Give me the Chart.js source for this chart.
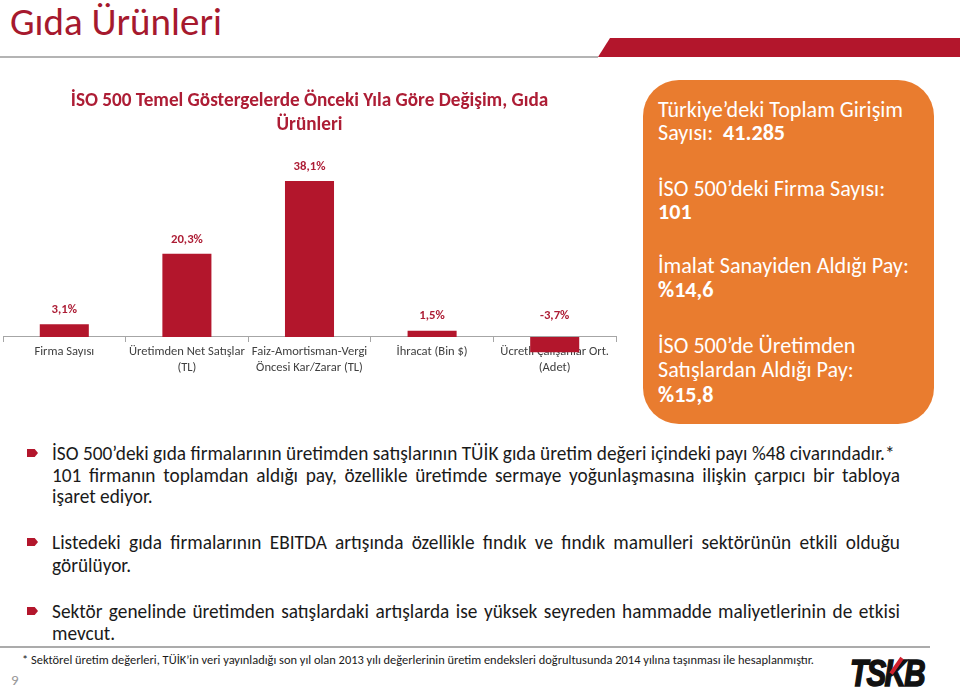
<!DOCTYPE html>
<html>
<head>
<meta charset="utf-8">
<script src="https://cdn.jsdelivr.net/npm/chart.js@4.4.1/dist/chart.umd.min.js"></script>
<style>
  html, body { margin: 0; padding: 0; background: #fff; }
  body { width: 960px; height: 694px; position: relative; overflow: hidden; font-family: Carlito, Lato, sans-serif; }
  .abs { position: absolute; white-space: nowrap; }
  #pageTitle { left: 10px; top: 0; color: #a6192e; line-height: 44px; }
  #redBand { left: 0; top: 38px; width: 960px; height: 19px; background: #b3162c;
             clip-path: polygon(610px 0, 960px 0, 960px 19px, 598px 19px); }
  #topRule { left: 0; top: 56px; width: 598px; height: 2px; background: #b4b4b4; }
  #chartBox { left: 0; top: 80px; width: 622px; height: 300px; }
  #infoBox { left: 643px; top: 80px; width: 291px; height: 344px; background: #e97c2f; border-radius: 36px; }
  .info { color: #fff; left: 658px; line-height: 24px; }
  .line { left: 52px; width: 848px; line-height: 22px; color: #1a1a1a; }
  .just { text-align: justify; text-align-last: justify; white-space: normal; }
  .bullet { left: 27px; width: 11px; height: 8px; background: #b3162c;
            clip-path: polygon(0 0, 70% 0, 100% 50%, 70% 100%, 0 100%); }
  #bottomRule { left: 0; top: 646px; width: 930px; height: 2px; background: #ababab; }
  #footnote { left: 22px; top: 652px; line-height: 16px; color: #1a1a1a; }
  #pageNo { left: 11px; top: 671px; line-height: 18px; color: #9a9a9a; font-size: 15px; }
  #logo { left: 850px; top: 656px; width: 74px; height: 36px; }
  #logoText { position: absolute; left: 0; top: 0; font: italic bold 36px "Liberation Sans Narrow", "Liberation Sans", Arial, sans-serif;
              line-height: 36px; letter-spacing: -2px; color: #111; transform-origin: 0 0;
              -webkit-text-stroke: 1.5px #111; }
  #logoSlash { position: absolute; left: 50px; top: 2px; width: 4px; height: 19px; background: #d0202e;
               transform: rotate(35deg); transform-origin: 50% 0; }
</style>
</head>
<body>
<div class="abs" id="pageTitle">Gıda Ürünleri</div>
<div class="abs" id="redBand"></div>
<div class="abs" id="topRule"></div>

<div class="abs" id="chartBox"><canvas id="chart"></canvas></div>

<div class="abs" id="infoBox"></div>
<div id="infoLines"></div>

<div id="bulletLines"></div>

<div class="abs" id="bottomRule"></div>
<div class="abs" id="footnote">* Sektörel üretim değerleri, TÜİK’in veri yayınladığı son yıl olan 2013 yılı değerlerinin üretim endeksleri doğrultusunda 2014 yılına taşınması ile hesaplanmıştır.</div>
<div class="abs" id="pageNo">9</div>
<div class="abs" id="logo"><div id="logoText">TSKB</div><div id="logoSlash"></div></div>

<script>
// ---- chart data ----
const categories = [
    ['Firma Sayısı'],
    ['Üretimden Net Satışlar', '(TL)'],
    ['Faiz-Amortisman-Vergi', 'Öncesi Kar/Zarar (TL)'],
    ['İhracat (Bin $)'],
    ['Ücretli Çalışanlar Ort.', '(Adet)']
];
const changes = [3.1, 20.3, 38.1, 1.5, -3.7];
const valueLabels = ['3,1%', '20,3%', '38,1%', '1,5%', '-3,7%'];
const chartTitle = ['İSO 500 Temel Göstergelerde Önceki Yıla Göre Değişim, Gıda', 'Ürünleri'];

// ---- side box and bullet texts ----
const infoLines = [
    ['Türkiye’deki Toplam Girişim', 110],
    ['Sayısı:&nbsp; <b>41.285</b>', 133],
    ['İSO 500’deki Firma Sayısı:', 189],
    ['<b>101</b>', 212],
    ['İmalat Sanayiden Aldığı Pay:', 266],
    ['<b>%14,6</b>', 290],
    ['İSO 500’de Üretimden', 346],
    ['Satışlardan Aldığı Pay:', 370],
    ['<b>%15,8</b>', 395]
];
const bulletLines = [
    ['İSO 500’deki gıda firmalarının üretimden satışlarının TÜİK gıda üretim değeri içindeki payı %48 civarındadır.*', 454, false],
    ['101 firmanın toplamdan aldığı pay, özellikle üretimde sermaye yoğunlaşmasına ilişkin çarpıcı bir tabloya', 476, true],
    ['işaret ediyor.', 497, false],
    ['Listedeki gıda firmalarının EBITDA artışında özellikle fındık ve fındık mamulleri sektörünün etkili olduğu', 543, true],
    ['görülüyor.', 566, false],
    ['Sektör genelinde üretimden satışlardaki artışlarda ise yüksek seyreden hammadde maliyetlerinin de etkisi', 612, true],
    ['mevcut.', 634, false]
];
const bulletTops = [454, 543, 612];

const FONT = 'Carlito, Lato, sans-serif';
const RED = '#b3162c';
const TEXT_RED = '#ad1d35';

// size a font so that a text gets a wanted width
const measureCtx = document.createElement('canvas').getContext('2d');
function fitSize(text, weight, target) {
    measureCtx.font = weight + ' 100px ' + FONT;
    return 100 * target / measureCtx.measureText(text).width;
}

document.getElementById('pageTitle').style.fontSize = fitSize('Gıda Ürünleri', 'normal', 212) + 'px';
document.getElementById('footnote').style.fontSize = fitSize(document.getElementById('footnote').textContent, 'normal', 793) + 'px';

const infoSize = fitSize('İmalat Sanayiden Aldığı Pay:', 'normal', 251);
let html = '';
infoLines.forEach(function(l) {
    html += '<div class="abs info" style="top:' + (l[1] - 12) + 'px;font-size:' + infoSize + 'px">' + l[0] + '</div>';
});
document.getElementById('infoLines').innerHTML = html;

const bulletSize = fitSize(bulletLines[0][0], 'normal', 843);
html = '';
bulletLines.forEach(function(l) {
    html += '<div class="abs line' + (l[2] ? ' just' : '') + '" style="top:' + (l[1] - 11) + 'px;font-size:' + bulletSize + 'px">' + l[0] + '</div>';
});
bulletTops.forEach(function(y) {
    html += '<div class="abs bullet" style="top:' + (y - 5) + 'px"></div>';
});
document.getElementById('bulletLines').innerHTML = html;

// logo width
const logoText = document.getElementById('logoText');
logoText.style.transform = 'scaleX(' + (74 / logoText.getBoundingClientRect().width) + ')';

// ---- chart ----
const titleSize = fitSize(chartTitle[0], 'bold', 478);
const tickSize = fitSize('Üretimden Net Satışlar', 'normal', 116);
const labelSize = fitSize('38,1%', 'bold', 32);

const valueLabelPlugin = {
    id: 'valueLabels',
    afterDatasetsDraw: function(chart) {
        const ctx = chart.ctx;
        const zeroY = chart.scales.y.getPixelForValue(0);
        ctx.save();
        ctx.font = 'bold ' + labelSize + 'px ' + FONT;
        ctx.fillStyle = TEXT_RED;
        ctx.textAlign = 'center';
        ctx.textBaseline = 'middle';
        chart.getDatasetMeta(0).data.forEach(function(bar, i) {
            const top = Math.min(bar.y, zeroY - 7);
            ctx.fillText(valueLabels[i], bar.x, top - 14);
        });
        ctx.restore();
    }
};

new Chart(document.getElementById('chart'), {
    type: 'bar',
    data: {
        labels: categories,
        datasets: [{
            data: changes,
            backgroundColor: RED,
            borderWidth: 0,
            barPercentage: 0.4,
            categoryPercentage: 1,
            clip: false
        }]
    },
    options: {
        responsive: true,
        maintainAspectRatio: false,
        animation: false,
        layout: { padding: { left: 3, right: 6, top: 0, bottom: 0 } },
        plugins: {
            legend: { display: false },
            tooltip: { enabled: false },
            title: {
                display: true,
                text: chartTitle,
                color: TEXT_RED,
                font: { family: FONT, size: titleSize, weight: 'bold', lineHeight: '24px' },
                padding: { top: 9, bottom: 3 }
            }
        },
        scales: {
            x: {
                position: { y: 0 },
                grid: { display: true, offset: true, drawOnChartArea: false, drawTicks: true, tickLength: 5, color: '#a6a6a6' },
                border: { display: true, color: '#a6a6a6', width: 1 },
                ticks: {
                    color: '#404040',
                    padding: 2,
                    maxRotation: 0,
                    autoSkip: false,
                    font: { family: FONT, size: tickSize, lineHeight: '16px' }
                }
            },
            y: {
                display: false,
                min: -10.5,
                max: 48.1
            }
        }
    },
    plugins: [valueLabelPlugin]
});
</script>
</body>
</html>
